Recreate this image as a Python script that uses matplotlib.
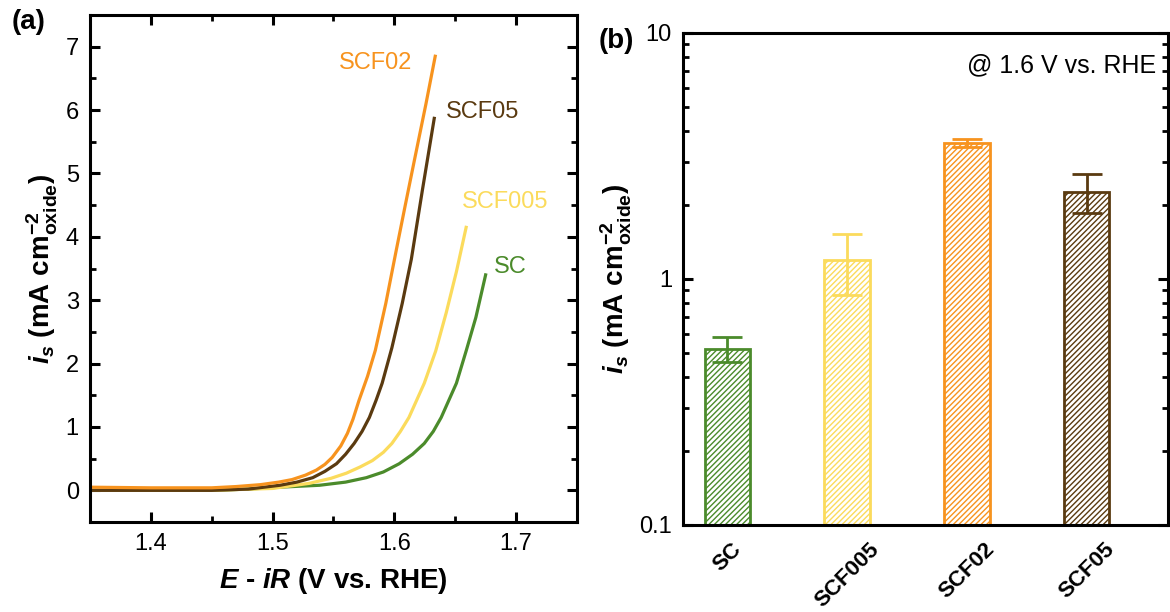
import matplotlib
matplotlib.use("Agg")
import matplotlib.pyplot as plt
from matplotlib.ticker import MultipleLocator, FixedLocator, FixedFormatter, NullFormatter

plt.rcParams['font.family'] = ['Liberation Sans', 'DejaVu Sans']
plt.rcParams['mathtext.fontset'] = 'custom'
plt.rcParams['mathtext.rm'] = 'Liberation Sans:bold'
plt.rcParams['mathtext.it'] = 'Liberation Sans:italic:bold'
plt.rcParams['mathtext.bf'] = 'Liberation Sans:bold'
plt.rcParams['hatch.linewidth'] = 1.0

# --- colours ---
c_sc = '#4b8b2b'
c_scf005 = '#fbdb5c'
c_scf02 = '#f7931e'
c_scf05 = '#5a3a10'

# --- (a) LSV curves ---
E_sc = [1.35, 1.40, 1.45, 1.48, 1.506, 1.5385, 1.56, 1.577, 1.591, 1.604, 1.615, 1.6246,
        1.632, 1.6385, 1.651, 1.659, 1.667, 1.675]
i_sc = [0.0, 0.0, 0.0, 0.02, 0.05, 0.08, 0.13, 0.2, 0.29, 0.42, 0.57, 0.74,
        0.93, 1.15, 1.69, 2.2, 2.73, 3.4]

E_scf005 = [1.35, 1.40, 1.45, 1.50, 1.53, 1.548, 1.5605, 1.572, 1.582, 1.591, 1.598, 1.605,
            1.612, 1.6246, 1.634, 1.6426, 1.651, 1.659]
i_scf005 = [0.0, 0.0, 0.0, 0.03, 0.11, 0.19, 0.27, 0.37, 0.47, 0.6, 0.74, 0.93,
            1.15, 1.69, 2.2, 2.8, 3.45, 4.15]

E_scf02 = [1.35, 1.40, 1.45, 1.47, 1.49, 1.505, 1.516, 1.527, 1.536, 1.543, 1.549, 1.556,
           1.5615, 1.566, 1.571, 1.578, 1.5844, 1.593, 1.6016, 1.609, 1.6164, 1.626, 1.6336]
i_scf02 = [0.05, 0.04, 0.04, 0.06, 0.09, 0.13, 0.17, 0.24, 0.32, 0.41, 0.52, 0.7,
           0.9, 1.12, 1.42, 1.8, 2.21, 2.95, 3.79, 4.5, 5.2, 6.1, 6.85]

E_scf05 = [1.35, 1.40, 1.45, 1.48, 1.506, 1.52, 1.533, 1.543, 1.5525, 1.56, 1.567, 1.5735,
           1.5795, 1.585, 1.590, 1.598, 1.6065, 1.614, 1.623, 1.6328]
i_scf05 = [0.0, 0.0, 0.0, 0.02, 0.08, 0.13, 0.2, 0.3, 0.42, 0.57, 0.74, 0.93,
           1.15, 1.42, 1.69, 2.25, 2.95, 3.65, 4.73, 5.87]

# --- (b) bars ---
samples = ['SC', 'SCF005', 'SCF02', 'SCF05']
i_s = [0.52, 1.19, 3.57, 2.26]
i_err = [0.06, 0.33, 0.13, 0.40]
colors = [c_sc, c_scf005, c_scf02, c_scf05]

fig = plt.figure(figsize=(11.7, 6.12), dpi=100)
ax1 = fig.add_axes([0.0769, 0.147, 0.4162, 0.8284])
ax2 = fig.add_axes([0.5838, 0.1422, 0.4145, 0.8039])

for ax in (ax1, ax2):
    for s in ax.spines.values():
        s.set_linewidth(2.2)

lw = 2.3
ax1.plot(E_sc, i_sc, color=c_sc, lw=lw)
ax1.plot(E_scf005, i_scf005, color=c_scf005, lw=lw)
ax1.plot(E_scf05, i_scf05, color=c_scf05, lw=lw)
ax1.plot(E_scf02, i_scf02, color=c_scf02, lw=lw)

ax1.set_xlim(1.35, 1.75)
ax1.set_ylim(-0.5, 7.5)
ax1.xaxis.set_major_locator(MultipleLocator(0.1))
ax1.xaxis.set_minor_locator(MultipleLocator(0.05))
ax1.yaxis.set_major_locator(MultipleLocator(1))
ax1.yaxis.set_minor_locator(MultipleLocator(0.5))
ax1.tick_params(which='both', direction='in', top=True, right=True, labelsize=17)
ax1.tick_params(which='major', length=7, width=2.2, pad=8)
ax1.tick_params(which='minor', length=4, width=2.0)

ax1.text(1.6148, 6.75, 'SCF02', color=c_scf02, fontsize=17, ha='right', va='center')
ax1.text(1.6425, 5.97, 'SCF05', color=c_scf05, fontsize=17, ha='left', va='center')
ax1.text(1.6555, 4.55, 'SCF005', color=c_scf005, fontsize=17, ha='left', va='center')
ax1.text(1.6815, 3.52, 'SC', color=c_sc, fontsize=17, ha='left', va='center')

ax1.set_xlabel(r'$E$ - $iR$ (V vs. RHE)', fontsize=20, fontweight='bold', labelpad=8)
ax1.set_ylabel(r'$i_s$ (mA cm$^{-2}_{\mathrm{oxide}}$)', fontsize=20, fontweight='bold', labelpad=4)
fig.text(0.010, 0.952, '(a)', fontsize=20, fontweight='bold')

x = list(range(len(samples)))
for xi, v, e, c in zip(x, i_s, i_err, colors):
    ax2.bar(xi, v, width=0.38, color='white', edgecolor=c, linewidth=2.0, hatch='//////', zorder=2)
    ax2.errorbar(xi, v, yerr=e, color=c, elinewidth=2.0, capsize=11, capthick=2.0, zorder=3)

ax2.set_yscale('log')
ax2.set_ylim(0.1, 10)
ax2.set_xlim(-0.37, 3.68)
ax2.yaxis.set_major_locator(FixedLocator([0.1, 1, 10]))
ax2.yaxis.set_major_formatter(FixedFormatter(['0.1', '1', '10']))
ax2.yaxis.set_minor_formatter(NullFormatter())
ax2.set_xticks(x)
ax2.set_xticklabels(samples, rotation=45, ha='center', fontsize=16, fontweight='bold')
ax2.tick_params(axis='x', length=0, pad=10)
ax2.tick_params(axis='y', which='both', direction='in', right=True, labelsize=17)
ax2.tick_params(axis='y', which='major', length=7, width=2.2, pad=8)
ax2.tick_params(axis='y', which='minor', length=4, width=2.0)

ax2.text(0.975, 0.935, '@ 1.6 V vs. RHE', transform=ax2.transAxes, fontsize=18, ha='right', va='center')
ax2.set_ylabel(r'$i_s$ (mA cm$^{-2}_{\mathrm{oxide}}$)', fontsize=20, fontweight='bold', labelpad=4)
fig.text(0.512, 0.922, '(b)', fontsize=20, fontweight='bold')

fig.savefig('out.png', dpi=100)
